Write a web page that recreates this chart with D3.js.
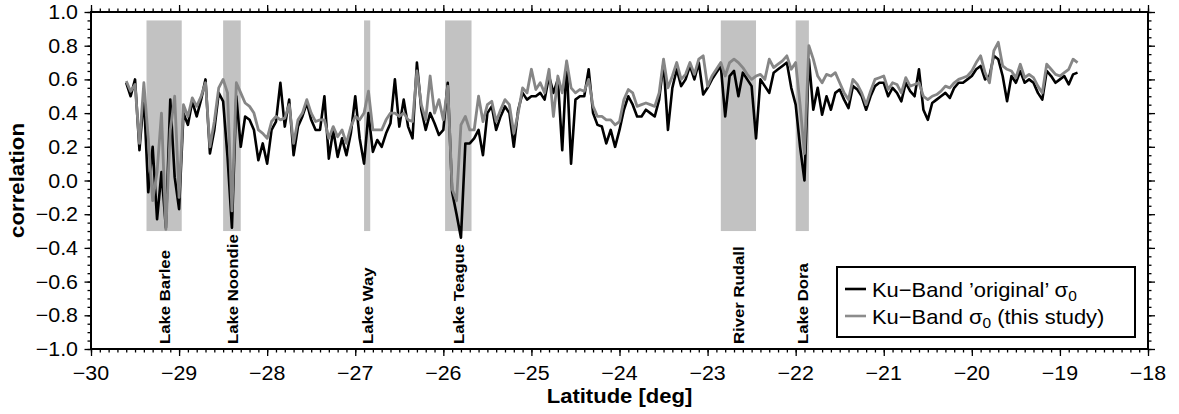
<!DOCTYPE html>
<html><head><meta charset="utf-8">
<script src="https://cdn.jsdelivr.net/npm/d3@7"></script>
<style>
body{margin:0;background:#fff}
svg{display:block}
text{font-family:"Liberation Sans",Arial,Helvetica,sans-serif;fill:#000}
</style>
</head><body>
<svg id="chart" width="1179" height="414"></svg>
<script>
// ---------- data ----------
const lat = [
-29.6,-29.55,-29.5,-29.45,-29.4,-29.35,-29.3,-29.25,-29.2,-29.15,-29.1,-29.05,
-29,-28.95,-28.9,-28.85,-28.8,-28.75,-28.7,-28.65,-28.6,-28.55,-28.5,-28.45,-28.4,-28.35,-28.3,-28.25,-28.2,-28.15,-28.1,-28.05,
-28,-27.95,-27.9,-27.85,-27.8,-27.75,-27.7,-27.65,-27.6,-27.55,-27.5,-27.45,-27.4,-27.35,-27.3,-27.25,-27.2,-27.15,-27.1,-27.05,
-27,-26.95,-26.9,-26.85,-26.8,-26.75,-26.7,-26.65,-26.6,-26.55,-26.5,-26.45,-26.4,-26.35,-26.3,-26.25,-26.2,-26.15,-26.1,-26.05,
-26,-25.95,-25.9,-25.85,-25.8,-25.75,-25.7,-25.65,-25.6,-25.55,-25.5,-25.45,-25.4,-25.35,-25.3,-25.25,-25.2,-25.15,-25.1,-25.05,
-25,-24.95,-24.9,-24.85,-24.8,-24.75,-24.7,-24.65,-24.6,-24.55,-24.5,-24.45,-24.4,-24.35,-24.3,-24.25,-24.2,-24.15,-24.1,-24.05,
-24,-23.95,-23.9,-23.85,-23.8,-23.75,-23.7,-23.65,-23.6,-23.55,-23.5,-23.45,-23.4,-23.35,-23.3,-23.25,-23.2,-23.15,-23.1,-23.05,
-23,-22.95,-22.9,-22.85,-22.8,-22.75,-22.7,-22.65,-22.6,-22.55,-22.5,-22.45,-22.4,-22.35,-22.3,-22.25,-22.2,-22.15,-22.1,-22.05,
-22,-21.95,-21.9,-21.85,-21.8,-21.75,-21.7,-21.65,-21.6,-21.55,-21.5,-21.45,-21.4,-21.35,-21.3,-21.25,-21.2,-21.15,-21.1,-21.05,
-21,-20.95,-20.9,-20.85,-20.8,-20.75,-20.7,-20.65,-20.6,-20.55,-20.5,-20.45,-20.4,-20.35,-20.3,-20.25,-20.2,-20.15,-20.1,-20.05,
-20,-19.95,-19.9,-19.85,-19.8,-19.75,-19.7,-19.65,-19.6,-19.55,-19.5,-19.45,-19.4,-19.35,-19.3,-19.25,-19.2,-19.15,-19.1,-19.05,
-19,-18.95,-18.9,-18.85,-18.8
];
// Ku-Band 'original' sigma0 (black)
const kuOriginal = [
0.58,0.50,0.60,0.18,0.50,-0.07,0.20,-0.23,0.05,-0.28,0.48,0.02,
-0.17,0.40,0.33,0.47,0.38,0.48,0.60,0.16,0.30,0.52,0.47,0.14,-0.28,0.50,0.20,0.38,0.36,0.30,0.12,0.22,
0.10,0.30,0.35,0.58,0.32,0.48,0.15,0.32,0.38,0.46,0.36,0.30,0.30,0.50,0.13,0.30,0.14,0.25,0.15,0.28,
0.50,0.25,0.10,0.40,0.17,0.24,0.20,0.28,0.34,0.60,0.32,0.48,0.32,0.25,0.70,0.42,0.30,0.40,0.34,0.27,
0.30,0.58,-0.07,-0.20,-0.34,0.22,0.22,0.25,0.30,0.15,0.40,0.44,0.30,0.38,0.44,0.40,0.20,0.42,0.52,0.48,
0.50,0.50,0.52,0.48,0.62,0.52,0.60,0.18,0.70,0.10,0.48,0.50,0.50,0.66,0.40,0.33,0.32,0.22,0.30,0.20,
0.30,0.42,0.50,0.45,0.38,0.38,0.42,0.40,0.38,0.48,0.70,0.30,0.55,0.66,0.56,0.60,0.68,0.60,0.70,0.51,
0.55,0.60,0.64,0.68,0.38,0.62,0.65,0.50,0.64,0.60,0.56,0.25,0.60,0.56,0.52,0.64,0.66,0.68,0.70,0.55,
0.45,0.20,0.00,0.72,0.42,0.55,0.39,0.50,0.42,0.52,0.54,0.48,0.43,0.56,0.54,0.50,0.42,0.50,0.56,0.58,
0.58,0.50,0.55,0.52,0.47,0.58,0.53,0.50,0.66,0.42,0.36,0.46,0.48,0.50,0.52,0.49,0.55,0.58,0.58,0.60,
0.62,0.66,0.68,0.60,0.62,0.74,0.72,0.62,0.47,0.62,0.58,0.65,0.58,0.60,0.58,0.52,0.48,0.65,0.62,0.58,
0.60,0.62,0.57,0.63,0.64
];
// Ku-Band sigma0 (this study) (grey)
const kuThisStudy = [
0.59,0.53,0.57,0.22,0.58,0.25,-0.12,0.05,0.40,-0.29,0.30,0.50,
-0.10,0.45,0.38,0.49,0.44,0.50,0.58,0.20,0.35,0.55,0.60,0.52,-0.18,0.58,0.52,0.46,0.44,0.40,0.30,0.28,
0.25,0.35,0.38,0.36,0.37,0.45,0.22,0.36,0.40,0.48,0.40,0.35,0.36,0.36,0.25,0.32,0.26,0.30,0.22,0.32,
0.38,0.36,0.40,0.53,0.30,0.30,0.30,0.36,0.40,0.40,0.38,0.40,0.36,0.35,0.65,0.45,0.36,0.62,0.40,0.48,
0.36,0.56,-0.05,-0.12,0.33,0.38,0.30,0.30,0.50,0.35,0.45,0.47,0.35,0.42,0.48,0.45,0.28,0.40,0.55,0.52,
0.66,0.54,0.58,0.52,0.66,0.38,0.62,0.52,0.71,0.55,0.52,0.54,0.53,0.60,0.44,0.38,0.38,0.36,0.36,0.33,
0.35,0.48,0.54,0.52,0.44,0.45,0.46,0.45,0.44,0.52,0.72,0.55,0.62,0.70,0.60,0.63,0.70,0.63,0.72,0.74,
0.56,0.62,0.66,0.70,0.62,0.70,0.72,0.70,0.67,0.63,0.60,0.62,0.63,0.60,0.72,0.67,0.69,0.71,0.74,0.66,
0.70,0.45,0.16,0.80,0.72,0.62,0.58,0.63,0.62,0.64,0.58,0.52,0.48,0.60,0.57,0.52,0.45,0.53,0.60,0.61,
0.62,0.54,0.58,0.57,0.52,0.61,0.56,0.57,0.58,0.50,0.48,0.50,0.51,0.53,0.56,0.55,0.58,0.60,0.61,0.62,
0.65,0.70,0.74,0.64,0.58,0.77,0.82,0.68,0.66,0.65,0.61,0.69,0.61,0.63,0.61,0.56,0.52,0.69,0.66,0.63,
0.62,0.64,0.66,0.72,0.70
];
const bandNames = ["Lake Barlee","Lake Noondie","Lake Way","Lake Teague","River Rudall","Lake Dora"];
const bandStart = [-29.37,-28.50,-26.90,-25.98,-22.85,-22.00];
const bandEnd   = [-28.97,-28.30,-26.83,-25.68,-22.45,-21.85];
const bandTop = 0.95, bandBottom = -0.3;
const xTickValues = [-30,-29,-28,-27,-26,-25,-24,-23,-22,-21,-20,-19,-18];
const yTickValues = [-1.0,-0.8,-0.6,-0.4,-0.2,0.0,0.2,0.4,0.6,0.8,1.0];
const xLabel = "Latitude [deg]";
const yLabel = "correlation";
const legendLabels = ["Ku\u2212Band \u2019original\u2019 \u03c3", "Ku\u2212Band \u03c3"];
const legendSuffix = ["", " (this study)"];

// ---------- layout ----------
const L = 91, R = 1148, T = 12, B = 349;
const svg = d3.select("#chart");
const x = d3.scaleLinear().domain([-30, -18]).range([L, R]);
const y = d3.scaleLinear().domain([-1, 1]).range([B, T]);

// bands
const bands = bandNames.map((n, i) => ({name: n, a: bandStart[i], b: bandEnd[i]}));
svg.append("g").selectAll("rect").data(bands).join("rect")
  .attr("x", d => x(d.a)).attr("width", d => x(d.b) - x(d.a))
  .attr("y", y(bandTop)).attr("height", y(bandBottom) - y(bandTop))
  .attr("fill", "#c2c2c2");

// lines
const n = Math.min(lat.length, kuOriginal.length, kuThisStudy.length);
const idx = d3.range(n);
const lineOf = arr => d3.line().x(i => x(lat[i])).y(i => y(arr[i]));
svg.append("path").attr("d", lineOf(kuOriginal)(idx))
  .attr("fill", "none").attr("stroke", "#000").attr("stroke-width", 2.6).attr("stroke-linejoin", "round");
svg.append("path").attr("d", lineOf(kuThisStudy)(idx))
  .attr("fill", "none").attr("stroke", "#868686").attr("stroke-width", 2.8).attr("stroke-linejoin", "round");

// band labels
svg.append("g").selectAll("text").data(bands).join("text")
  .attr("transform", d => `translate(${(x(d.a) + x(d.b)) / 2 + 5.8},344) rotate(-90) scale(1.08,1)`)
  .attr("font-size", 15.5).attr("font-weight", "bold")
  .text(d => d.name);

// axes ticks
const xMinor = d3.range(-30, -17.95, 0.1).map(v => +v.toFixed(1));
const yMinor = d3.range(-1, 1.001, 0.05).map(v => +v.toFixed(2));
function styleAxis(g) {
  g.select(".domain").remove();
  g.selectAll("line").attr("stroke", "#000").attr("stroke-width", 1.3);
  g.selectAll("text").remove();
}
svg.append("g").attr("transform", `translate(0,${B})`).call(d3.axisBottom(x).tickValues(xMinor).tickSize(3.5)).call(styleAxis);
svg.append("g").attr("transform", `translate(0,${B})`).call(d3.axisBottom(x).tickValues(xTickValues).tickSize(7)).call(styleAxis);
svg.append("g").attr("transform", `translate(0,${T})`).call(d3.axisTop(x).tickValues(xMinor).tickSize(3.5)).call(styleAxis);
svg.append("g").attr("transform", `translate(0,${T})`).call(d3.axisTop(x).tickValues(xTickValues).tickSize(7)).call(styleAxis);
svg.append("g").attr("transform", `translate(${L},0)`).call(d3.axisLeft(y).tickValues(yMinor).tickSize(3.5)).call(styleAxis);
svg.append("g").attr("transform", `translate(${L},0)`).call(d3.axisLeft(y).tickValues(yTickValues).tickSize(6.5)).call(styleAxis);
svg.append("g").attr("transform", `translate(${R},0)`).call(d3.axisRight(y).tickValues(yMinor).tickSize(3.5)).call(styleAxis);
svg.append("g").attr("transform", `translate(${R},0)`).call(d3.axisRight(y).tickValues(yTickValues).tickSize(7)).call(styleAxis);

// frame
svg.append("rect").attr("x", L).attr("y", T).attr("width", R - L).attr("height", B - T)
  .attr("fill", "none").attr("stroke", "#000").attr("stroke-width", 2);

// tick labels
const fx = d3.format("d"), fy = d3.format(".1f");
svg.append("g").selectAll("text").data(xTickValues).join("text")
  .attr("transform", d => `translate(${x(d)},380) scale(1.07,1)`)
  .attr("text-anchor", "middle").attr("font-size", 20).text(d => fx(d));
svg.append("g").selectAll("text").data(yTickValues).join("text")
  .attr("transform", d => `translate(78,${y(d) + 7}) scale(1.07,1)`)
  .attr("text-anchor", "end").attr("font-size", 20).text(d => fy(d));

// axis titles
svg.append("text").attr("transform", `translate(${(L + R) / 2},403) scale(1.05,1)`)
  .attr("text-anchor", "middle").attr("font-size", 21).attr("font-weight", "bold").text(xLabel);
svg.append("text").attr("transform", `translate(23.5,${(T + B) / 2}) rotate(-90) scale(1.06,1)`)
  .attr("text-anchor", "middle").attr("font-size", 21).attr("font-weight", "bold").text(yLabel);

// legend
const lg = svg.append("g");
lg.append("rect").attr("x", 837).attr("y", 267).attr("width", 298).attr("height", 70)
  .attr("fill", "#fff").attr("stroke", "#000").attr("stroke-width", 2);
const legColors = ["#000", "#8c8c8c"];
const rowY = [297, 324];
legendLabels.forEach((lab, i) => {
  lg.append("line").attr("x1", 845).attr("x2", 866).attr("y1", rowY[i] - 8).attr("y2", rowY[i] - 8)
    .attr("stroke", legColors[i]).attr("stroke-width", 2.6);
  const t = lg.append("text").attr("transform", `translate(872,${rowY[i]}) scale(1.07,1)`).attr("font-size", 20.5);
  t.append("tspan").text(lab);
  t.append("tspan").attr("font-size", 14.5).attr("dy", 4).text("0");
  if (legendSuffix[i]) t.append("tspan").attr("dy", -4).text(legendSuffix[i]);
});
</script>
</body></html>
